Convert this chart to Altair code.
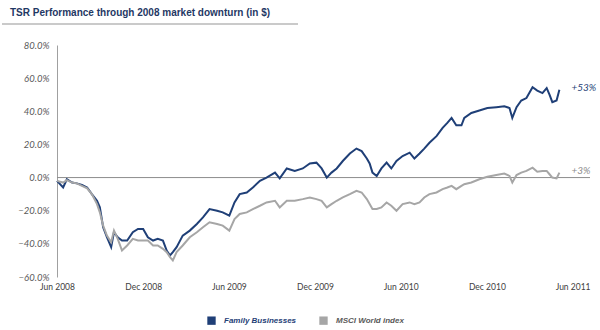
import altair as alt
import pandas as pd

# Dates (approx. sampling)
dates = [
    "2008-06-01", "2008-06-14", "2008-06-22", "2008-07-03", "2008-07-13", "2008-07-24",
    "2008-08-04", "2008-08-14", "2008-08-25", "2008-08-31", "2008-09-07", "2008-09-15",
    "2008-09-24", "2008-09-30", "2008-10-08", "2008-10-17", "2008-10-28", "2008-11-09",
    "2008-11-20", "2008-12-01", "2008-12-11", "2008-12-22", "2009-01-01", "2009-01-12",
    "2009-01-20", "2009-01-27", "2009-02-02", "2009-02-10", "2009-02-23", "2009-03-10",
    "2009-03-25", "2009-04-07", "2009-04-21", "2009-05-07", "2009-05-19", "2009-06-02",
    "2009-06-13", "2009-06-24", "2009-07-09", "2009-07-22", "2009-08-06", "2009-08-20",
    "2009-09-07", "2009-09-17", "2009-10-02", "2009-10-19", "2009-11-05", "2009-11-20",
    "2009-12-04", "2009-12-15", "2009-12-26", "2010-01-05", "2010-01-16", "2010-01-29",
    "2010-02-13", "2010-02-27", "2010-03-10", "2010-03-21", "2010-03-27", "2010-04-02",
    "2010-04-11", "2010-04-21", "2010-05-02", "2010-05-12", "2010-05-23", "2010-06-05",
    "2010-06-20", "2010-06-30", "2010-07-11", "2010-07-21", "2010-08-01", "2010-08-16",
    "2010-08-29", "2010-09-08", "2010-09-17", "2010-09-27", "2010-10-08", "2010-10-14",
    "2010-10-29", "2010-11-15", "2010-12-02", "2010-12-21", "2011-01-07", "2011-01-18",
    "2011-01-24", "2011-02-02", "2011-02-12", "2011-02-23", "2011-03-01", "2011-03-08",
    "2011-03-18", "2011-03-29", "2011-04-07", "2011-04-13", "2011-04-19", "2011-04-28",
    "2011-05-04",
]

family = [
    -2, -6, -1, -3, -3.5, -4.5, -6, -10, -14, -18, -30, -36,
    -42, -33, -36, -38, -38, -33, -31, -31, -36, -38, -37, -38,
    -44, -47, -45, -42, -35, -32, -28, -24, -19, -20, -21, -23,
    -15, -10, -9, -6, -2, 0, 3, -0.5, 5.5, 4, 5.5, 8.5,
    9, 5.5, 0, 3, 5.5, 10, 14.5, 17.5, 16, 11.5, 8.5, 3,
    1, 5.5, 9, 5.5, 10, 13, 15, 11.5, 14.5, 17.5, 21, 25,
    30, 33, 36, 31.5, 31.5, 36, 39, 40.5, 42, 42.5, 43, 42,
    36, 42.5, 46.5, 48, 51, 54.5, 52.5, 51, 54, 50, 45.5, 46.5,
    53,
]

msci = [
    -2, -3, -1.5, -3, -3.5, -5, -6.5, -10, -16, -21, -29, -35,
    -39, -32, -37, -44, -41, -37, -38, -38, -38, -41, -41, -43,
    -45, -48, -50, -45, -41, -36, -33, -30, -27, -28, -29, -32,
    -25, -22, -21, -19, -17, -15, -14, -18, -14, -14, -13, -12,
    -13, -14, -18, -16, -14, -12, -10, -8, -9, -13, -16, -19,
    -19, -18, -15, -17, -20, -16, -15, -16, -15, -12, -10, -9,
    -7, -6, -5, -7, -5, -4, -3, -1, 0.5, 1.5, 2.4, 1,
    -3, 1.5, 3, 4, 5, 6, 3.5, 4, 4, 2, 0, -0.5,
    3,
]

series_names = ["Family Businesses", "MSCI World index"]
series_colors = ["#1F3F77", "#A6A6A6"]
end_labels = ["+53%", "+3%"]
y_ticks = [-60, -40, -20, 0, 20, 40, 60, 80]
x_ticks = [(2008, 6), (2008, 12), (2009, 6), (2009, 12), (2010, 6), (2010, 12), (2011, 6)]

df = pd.DataFrame({
    "date": dates * 2,
    "value": family + msci,
    "series": [series_names[0]] * len(dates) + [series_names[1]] * len(dates),
})
ends = pd.DataFrame({
    "date": [dates[-1], dates[-1]],
    "value": [family[-1], msci[-1]],
    "series": series_names,
    "label": end_labels,
})
zero = pd.DataFrame({"value": [0]})

font = "Liberation Sans"
lfont = "Lato"

xscale = alt.Scale(type="utc", domain=[alt.DateTime(year=2008, month=6, date=1, utc=True),
                                       alt.DateTime(year=2011, month=7, date=8, utc=True)])
yscale = alt.Scale(domain=[-60, 80], nice=False, zero=False)

x_axis = alt.Axis(values=[alt.DateTime(year=y, month=m, date=1, utc=True) for y, m in x_ticks],
                  format="%b %Y", domain=False, ticks=False, grid=False,
                  labelFont=lfont, labelFontSize=8.5, labelColor="#404040",
                  labelPadding=5, labelFlush=False, labelOverlap=False)
y_axis = alt.Axis(values=y_ticks, labelExpr="format(datum.value, '.1f') + '%'",
                  domain=True, domainColor="#A0A0A0", domainWidth=1,
                  ticks=False, grid=False, labelFont=lfont, labelFontSize=9.5,
                  labelFontStyle="italic", labelColor="#595959", labelPadding=8,
                  labelOverlap=False, labelFlush=False, labelBound=False)

color_expr = "datum.label === 'Family Businesses' ? '#1F3F77' : '#A6A6A6'"
label_expr = "datum.label === 'Family Businesses' ? '#1F3F77' : '#595959'"

zero_rule = alt.Chart(zero).mark_rule(color="#8C8C8C", strokeWidth=1).encode(
    y=alt.Y("value:Q", scale=yscale, title=None, axis=y_axis))

lines = alt.Chart(df).mark_line(strokeWidth=2).encode(
    x=alt.X("date:T", scale=xscale, title=None, axis=x_axis),
    y=alt.Y("value:Q", scale=yscale, title=None, axis=y_axis),
    color=alt.Color("series:N",
                    scale=alt.Scale(domain=series_names, range=series_colors),
                    legend=alt.Legend(title=None, orient="none", direction="horizontal",
                                      legendX=150, legendY=271, symbolType="square",
                                      symbolSize=70, symbolStrokeWidth=0,
                                      symbolFillColor={"expr": color_expr},
                                      symbolOpacity=1,
                                      labelFont=font, labelFontSize=8,
                                      labelFontStyle="italic", labelFontWeight="bold",
                                      labelColor={"expr": label_expr},
                                      labelOffset=8, columnPadding=22, padding=0)),
    order=alt.Order("date:T"),
)

labels = alt.Chart(ends).mark_text(align="left", baseline="middle", dx=12, dy=-2,
                                   font=lfont, fontSize=10, fontStyle="italic").encode(
    x=alt.X("date:T", scale=xscale, title=None, axis=x_axis),
    y=alt.Y("value:Q", scale=yscale, title=None, axis=y_axis),
    text="label:N",
    color=alt.Color("series:N", scale=alt.Scale(domain=series_names, range=["#1F3F77", "#8C8C8C"]),
                    legend=None),
)

title_df = pd.DataFrame({"t": ["TSR Performance through 2008 market downturn (in $)"]})
title = alt.Chart(title_df).mark_text(align="left", baseline="alphabetic", font=font,
                                      fontSize=10, fontWeight="bold", color="#1F3864").encode(
    x=alt.value(-47), y=alt.value(-29), text="t:N")
underline = alt.Chart(title_df).mark_rule(color="#B8B8B8", strokeWidth=1.5).encode(
    x=alt.value(-55), x2=alt.value(241), y=alt.value(-21))

chart = alt.layer(zero_rule, lines, labels, title, underline).resolve_scale(color="independent").properties(
    width=533, height=232,
    autosize=alt.AutoSizeParams(type="none"),
    padding={"left": 57, "top": 45, "right": 10, "bottom": 53},
).configure(
    background="white",
    view=alt.ViewConfig(stroke=None),
    axis=alt.AxisConfig(labelOverlap=False),
)

chart.save("out.html", embed_options={"renderer": "svg", "actions": False})
